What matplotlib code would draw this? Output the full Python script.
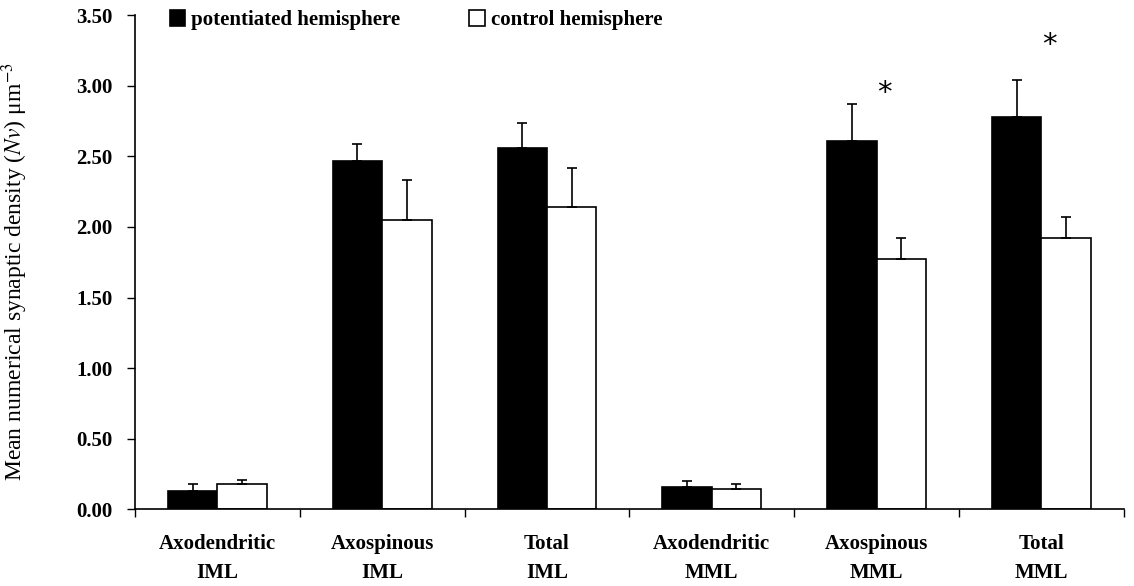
#!/usr/bin/env python3
# -*- coding: utf-8 -*-
"""
Grouped bar chart: mean numerical synaptic density, potentiated vs control
hemisphere, with one-sided error bars and significance stars.
Output: out.png
"""

import numpy as np
import matplotlib
matplotlib.use("Agg")
import matplotlib.pyplot as plt
from matplotlib.patches import Patch

# ---------------------------------------------------------------------------
# Data
# ---------------------------------------------------------------------------
CATEGORIES = [
    "Axodendritic\nIML", "Axospinous\nIML", "Total\nIML",
    "Axodendritic\nMML", "Axospinous\nMML", "Total\nMML",
]
POTENTIATED     = [0.13, 2.47, 2.56, 0.16, 2.61, 2.78]
POTENTIATED_ERR = [0.05, 0.12, 0.18, 0.04, 0.26, 0.26]
CONTROL         = [0.18, 2.05, 2.14, 0.14, 1.77, 1.92]
CONTROL_ERR     = [0.03, 0.28, 0.28, 0.04, 0.15, 0.15]

SERIES_LABELS = ["potentiated hemisphere", "control hemisphere"]
Y_TICKS       = [0.0, 0.5, 1.0, 1.5, 2.0, 2.5, 3.0, 3.5]

# significant groups (index into CATEGORIES) and star height above error bar
SIG_GROUPS  = [4, 5]
SIG_OFFSETS = [0.08, 0.25]

OUTPUT_PLOT = "out.png"


def main():
    plt.rcParams["font.family"] = ["Liberation Serif", "DejaVu Serif"]
    plt.rcParams["mathtext.fontset"] = "stix"

    x     = np.arange(len(CATEGORIES))
    width = 0.3

    fig = plt.figure(figsize=(11.34, 5.86), dpi=100)
    ax  = fig.add_axes([0.119, 0.131, 0.872, 0.843])

    err_kw = dict(ecolor="black", elinewidth=1.2, capsize=3.3, capthick=1.2)
    pot_err = [np.zeros(len(POTENTIATED_ERR)), POTENTIATED_ERR]
    con_err = [np.zeros(len(CONTROL_ERR)), CONTROL_ERR]

    ax.bar(x - width / 2, POTENTIATED, width, yerr=pot_err,
           color="black", edgecolor="black", linewidth=1.2,
           error_kw=err_kw, zorder=2)
    ax.bar(x + width / 2, CONTROL, width, yerr=con_err,
           color="white", edgecolor="black", linewidth=1.2,
           error_kw=err_kw, zorder=2)

    # significance stars
    for g, off in zip(SIG_GROUPS, SIG_OFFSETS):
        y = POTENTIATED[g] + POTENTIATED_ERR[g] + off
        ax.text(x[g] + 0.05, y, "*", ha="center", va="center",
                fontsize=21, family="DejaVu Sans")

    # axes styling
    ax.set_xlim(-0.5, len(CATEGORIES) - 0.5)
    ax.set_ylim(0, 3.5)
    ax.set_yticks(Y_TICKS)
    ax.set_yticklabels([f"{v:.2f}" for v in Y_TICKS],
                       fontsize=15, fontweight="bold")
    ax.set_xticks(x)
    ax.set_xticklabels(CATEGORIES, fontsize=15, fontweight="bold",
                       linespacing=1.6)
    ax.set_xticks(np.arange(-0.5, len(CATEGORIES)), minor=True)
    ax.tick_params(axis="x", which="major", length=0, pad=18)
    ax.tick_params(axis="x", which="minor", length=6, width=1,
                   direction="out")
    ax.tick_params(axis="y", length=6, width=1, direction="out", pad=10)

    for side in ("top", "right"):
        ax.spines[side].set_visible(False)
    for side in ("left", "bottom"):
        ax.spines[side].set_linewidth(1.2)

    ax.set_ylabel(r"Mean numerical synaptic density ($\mathit{Nv}$) μm$^{-3}$",
                  fontsize=17)
    ax.yaxis.set_label_coords(-0.106, 0.48)

    handles = [
        Patch(facecolor="black", edgecolor="black", linewidth=1.2),
        Patch(facecolor="white", edgecolor="black", linewidth=1.2),
    ]
    leg = ax.legend(handles, SERIES_LABELS, ncol=2, frameon=False,
                    loc="center left", bbox_to_anchor=(0.035, 0.99),
                    borderaxespad=0, borderpad=0,
                    handlelength=0.75, handleheight=0.75,
                    handletextpad=0.3, columnspacing=3.3,
                    prop={"size": 15, "weight": "bold"})
    leg.set_zorder(3)

    fig.savefig(OUTPUT_PLOT, dpi=100)
    plt.close(fig)


if __name__ == "__main__":
    main()
